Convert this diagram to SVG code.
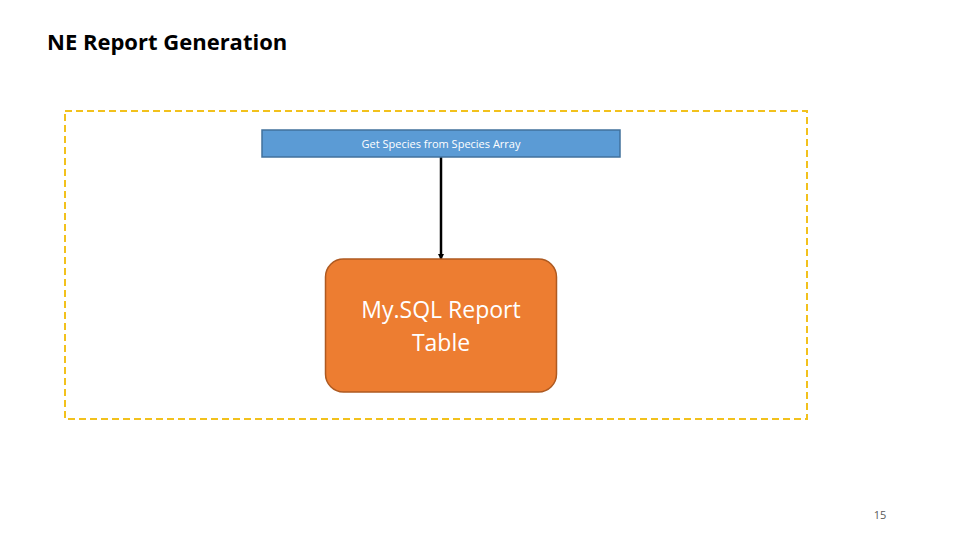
<svg xmlns="http://www.w3.org/2000/svg" width="960" height="540" viewBox="0 0 960 540">
<defs><marker id="ah" markerWidth="6" markerHeight="6" refX="5" refY="3" orient="auto" markerUnits="userSpaceOnUse"><path d="M0,0 L6,3 L0,6 Z" fill="#000"/></marker></defs>
<style>text{font-family:"Open Sans","Liberation Sans",sans-serif}</style>
<rect width="960" height="540" fill="#fff"/>
<text x="47" y="50" font-size="22" font-weight="bold" fill="#000">NE Report Generation</text>
<rect x="65" y="111" width="742" height="308" fill="none" stroke="#f2c11c" stroke-width="2" stroke-dasharray="7,4"/>
<g id="connectors"><line x1="441" y1="157" x2="441" y2="259" stroke="#000" stroke-width="2.5" marker-end="url(#ah)"/></g>
<g id="get-species"><rect x="262" y="130" width="358" height="27" fill="#5b9bd5" stroke="#41719c" stroke-width="1.5"/>
<text x="441" y="148" font-size="11" fill="#fff" text-anchor="middle">Get Species from Species Array</text></g>
<g id="mysql"><rect x="325.500" y="259" width="231" height="133" rx="18" fill="#ed7d31" stroke="#ae5a21" stroke-width="1.5"/>
<text x="441" y="318" font-size="23" fill="#fff" text-anchor="middle">My.SQL Report</text>
<text x="441" y="351" font-size="23" fill="#fff" text-anchor="middle">Table</text></g>
<text x="880" y="519" font-size="11" fill="#595959" text-anchor="middle">15</text>
</svg>
